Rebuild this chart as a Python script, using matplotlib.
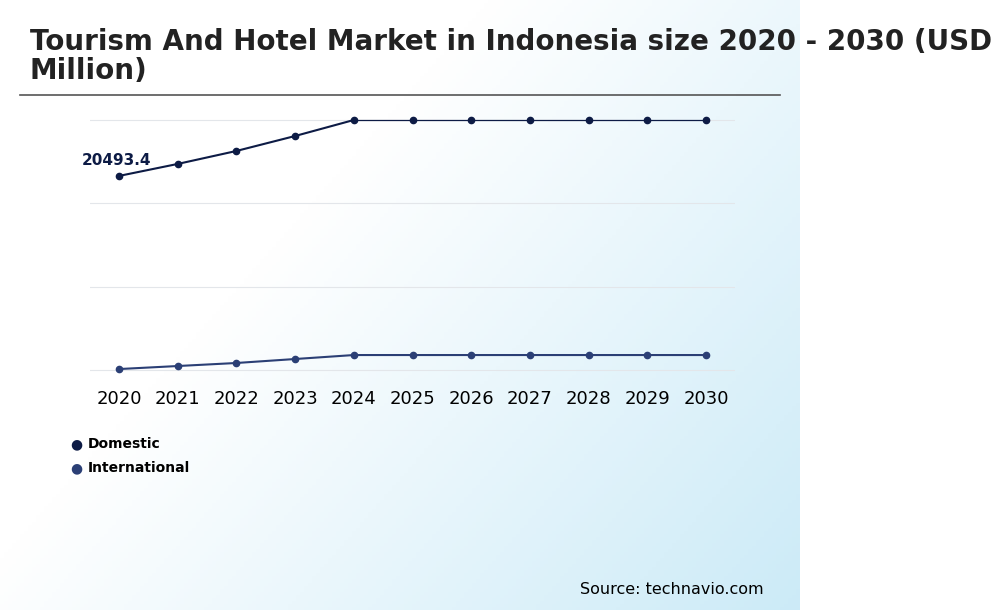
import numpy as np
import matplotlib.pyplot as plt

years = list(range(2020, 2031))
domestic = [20493.4, 21760, 23130, 24710, 26400, 26400, 26400, 26400, 26400, 26400, 26400]
international = [100, 420, 740, 1160, 1580, 1580, 1580, 1580, 1580, 1580, 1580]
grid_vals = [0, 8800, 17600, 26400]

fig = plt.figure(figsize=(10, 6.1), dpi=100)

# gradient background on the left part: white top-left, light blue bottom-right
bg = fig.add_axes([0, 0, 0.8, 1])
xx, yy = np.meshgrid(np.linspace(0, 1, 200), np.linspace(0, 1, 200))
t = np.clip((xx * 0.9 + yy * 0.6) - 0.55, 0, 1) / 0.95
white = np.array([1.0, 1.0, 1.0])
blue = np.array([0.80, 0.92, 0.97])
img = white + (blue - white) * t[..., None]
bg.imshow(img, aspect='auto', extent=[0, 1, 0, 1], origin='upper')
bg.axis('off')

fig.text(0.03, 0.908, 'Tourism And Hotel Market in Indonesia size 2020 - 2030 (USD\nMillion)',
         fontsize=20, fontweight='bold', color='#222222', va='center', linespacing=1.05)
fig.add_artist(plt.Line2D([0.02, 0.78], [0.845, 0.845], color='#555555', lw=1.2))

ax = fig.add_axes([0.09, 1 - 380 / 610, 0.645, 270 / 610])
ax.set_facecolor('none')
ax.plot(years[:5], domestic[:5], color='#0d1b45', lw=1.5)
ax.plot(years[4:], domestic[4:], color='#0d1b45', lw=0.9)
ax.plot(years, domestic, color='#0d1b45', marker='o', ms=4.5, lw=0)
ax.plot(years, international, color='#2b3f75', marker='o', ms=4.5, lw=1.5)
for g in grid_vals:
    ax.axhline(g, color='#e3e6ea', lw=0.8, zorder=0)
ax.set_xlim(2019.506, 2030.494)
ax.set_ylim(-1056, 27456)
ax.set_yticks([])
ax.set_xticks(years)
ax.tick_params(axis='x', length=0, labelsize=13, pad=7)
for s in ax.spines.values():
    s.set_visible(False)
ax.annotate(f'{domestic[0]}', (years[0], domestic[0]), xytext=(-27, 8),
            textcoords='offset points', fontsize=11, fontweight='bold', color='#0d1b45')

fig.text(0.076, 0.272, '●', color='#0d1b45', fontsize=10, va='center', ha='center')
fig.text(0.088, 0.272, 'Domestic', fontsize=10, fontweight='bold', va='center')
fig.text(0.076, 0.233, '●', color='#2b3f75', fontsize=10, va='center', ha='center')
fig.text(0.088, 0.233, 'International', fontsize=10, fontweight='bold', va='center')

fig.text(0.58, 0.033, 'Source: technavio.com', fontsize=11.5, va='center')

fig.savefig('out.png', dpi=100)
